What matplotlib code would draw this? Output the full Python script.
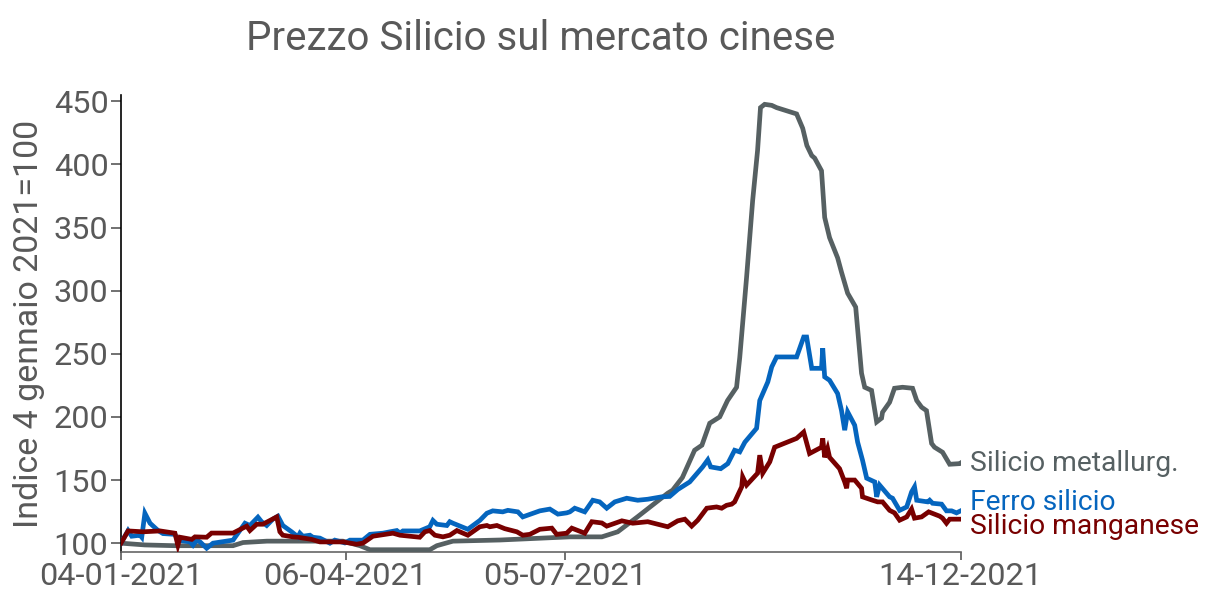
import matplotlib
matplotlib.use("Agg")
import matplotlib.pyplot as plt
import pandas as pd

# ---------------- data ----------------
start_date = "2021-01-04"   # base date (index = 100)

# days elapsed since 4 Jan 2021, and index values
metal_days = [0, 9.8, 22, 45.9, 50, 59.8, 90.9, 97.9, 102, 126.5, 129.4, 136, 155.2, 183.9,
              197, 203.5, 211.7, 224, 226, 230, 235, 238, 241.2, 245.3, 248.5, 252.2, 253.5,
              256.3, 258.8, 260.8, 262, 263.7, 266.6, 268.6, 276.8, 279.3, 281, 283, 284.2,
              287, 288.3, 290.3, 293.6, 295.2, 297.7, 301, 303.4, 304.7, 307.5, 309.6, 311.6,
              312, 314.9, 316.9, 320.2, 324.3, 326, 328, 330, 332.1, 333.3, 336.6, 339.5, 343.6, 344]
metal_vals = [100, 98.6, 98, 98, 100.5, 101.6, 101.6, 98, 94.8, 94.8, 98, 101.6, 102.5, 105,
              105, 109, 121, 139.6, 142, 152, 173.6, 177.6, 195, 200, 213, 223.5, 247,
              310.6, 371.6, 411, 445, 447.6, 446.8, 445, 440, 428.6, 415, 407, 405,
              395, 358, 342, 326, 314.6, 298, 287, 234.6, 223.5, 221, 196, 199,
              203.7, 211.6, 222.7, 223.5, 222.7, 213, 207.7, 205, 179, 176, 172, 162.5, 163, 163.5]

ferro_days = [0, 2.9, 4.4, 7.8, 8.5, 9.8, 11.9, 15.2, 17.2, 22.1, 23.3, 28.3, 29.5, 31, 32.4,
              35.1, 37.7, 45.9, 50.8, 52.8, 56.1, 57.6, 59.7, 62.2, 64.3, 66.3, 69.9, 72.5,
              73.3, 74.5, 77.4, 78.6, 81.5, 85.6, 87.6, 91.7, 93.8, 99.1, 102, 107.3, 110.2,
              113, 114.3, 115.5, 122.4, 126.5, 127.8, 129.4, 133.5, 134.7, 136, 142.1, 147,
              149.9, 152.3, 156.4, 158.5, 162.6, 164.6, 171.6, 175.7, 179, 182.6, 183.9,
              185.9, 190, 193.3, 196.1, 199, 202.3, 207.2, 211.7, 215.8, 221.5, 224.8, 228.1,
              233, 238.3, 240.4, 241.6, 245.7, 248.6, 251.4, 253.5, 255.6, 260.4, 261.7, 265,
              266.6, 268.6, 276.8, 279.7, 280.9, 283, 287, 287.5, 288.3, 290.3, 293.6, 295.2,
              296.5, 297.7, 300.6, 301.8, 303.8, 305.5, 308.8, 309.6, 310.8, 314.9, 316.1,
              319, 321.9, 323.9, 325.1, 326, 330.5, 331.3, 332.5, 336.2, 338.2, 340.3, 342.3, 344]
ferro_vals = [100, 110, 105.5, 106.3, 104.7, 123.7, 115.8, 110, 107.6, 107, 102.4, 101, 98.4, 102.4, 101,
              96, 100, 102.4, 115.8, 114, 120.6, 117, 114, 119, 121.4, 114, 109, 105,
              107.9, 105.5, 106.3, 104.7, 104, 100, 102.4, 100.2, 102.4, 102.4, 107, 107.9, 109,
              110, 108, 109.7, 109.7, 113, 118, 115, 114, 117, 115.8, 111, 118,
              123.7, 125.6, 124.8, 126, 124.8, 120.8, 125.6, 127, 123, 124, 124.8,
              127.7, 124.8, 134, 132.7, 127.7, 132.7, 135.6, 134, 134.8, 136.7, 137, 142.5,
              148.5, 160.4, 166, 160.4, 159, 163, 173.6, 172.3, 180, 191, 213, 227.7,
              239.6, 247.5, 247.5, 263.3, 263.3, 238.5, 238.5, 254.4, 231.7, 229, 218.5, 205,
              189.5, 204, 193.4, 180, 165.7, 151.5, 148.5, 136.7, 146, 136.7, 135.6,
              126, 128.7, 140.6, 144.6, 134, 132.7, 134, 131.6, 130.9, 125.6, 125.6, 124, 125.6]

mang_days = [0, 2.9, 9, 16, 22.1, 23.3, 24.2, 29, 30.3, 35.1, 37.1, 45.9, 51.5, 52.8, 55.6, 58.1,
             63.8, 65.1, 66.3, 70.4, 72.5, 78.1, 81.5, 90.9, 96.5, 99.1, 103.2, 111.4, 114.3,
             122.4, 124.5, 126.5, 128.6, 131.9, 134.7, 137.6, 142.1, 147, 149.9, 151.1, 154,
             157.2, 162.2, 164.6, 167.5, 171.6, 176.5, 178.5, 182.6, 184.7, 190, 192.9, 197,
             199, 205.2, 209.7, 215.8, 224, 228.1, 231, 233.8, 236.3, 240, 244, 246.1, 248.1,
             250.2, 251.4, 254.3, 254.7, 256.3, 260.8, 261.7, 262.9, 265.8, 267.8, 276.8,
             279.7, 282.1, 287, 287.5, 288.3, 289.5, 290.3, 294.4, 296.5, 297.3, 297.7, 300.6,
             303.4, 303.8, 307.9, 310, 312, 314.9, 316.9, 319, 321.9, 323.9, 325.1, 328,
             330.9, 335.4, 336.6, 338.2, 339.5, 344]
mang_vals = [100, 109.7, 109, 109.7, 107.9, 98.4, 104.7, 103, 105, 104.7, 108, 108, 113.5, 110, 115, 115,
             120.8, 109, 106.3, 105, 104.7, 103, 101, 101, 99.2, 100, 105.5, 107.9, 106.3,
             104.7, 109, 110, 106.3, 105, 106.3, 110, 106.3, 113, 114, 113, 114,
             111.5, 109, 106.3, 107, 111, 111.9, 107, 107.9, 111.9, 107.9, 117, 116,
             113.5, 117.7, 115.8, 117, 113, 117.7, 119, 113.5, 118.2, 127.7, 128.7, 127.7, 130,
             130.9, 132.7, 144.6, 152.5, 146, 155.4, 169.7, 155.4, 164.4, 176, 183,
             188, 171, 176, 183, 168, 175, 168, 159, 148.5, 143.5, 150, 150,
             143.5, 136.7, 134, 132.7, 132.7, 126, 124, 118.2, 120.8, 127, 119.8, 120.8,
             124.8, 121.4, 119.8, 115.8, 119, 119]

series_names = ["Silicio metallurg.", "Ferro silicio", "Silicio manganese"]
x_tick_labels = ["04-01-2021", "06-04-2021", "05-07-2021", "14-12-2021"]
y_ticks = [100, 150, 200, 250, 300, 350, 400, 450]
title = "Prezzo Silicio sul mercato cinese"
y_label = "Indice 4 gennaio 2021=100"

# ---------------- styling ----------------
plt.rcParams['font.family'] = ['Roboto', 'DejaVu Sans']
colors = ["#566062", "#0565BE", "#780000"]
text_grey = "#595959"
label_y = [163, 132.5, 113.3]   # label placement (nudged to avoid overlap)

base = pd.Timestamp(start_date)
def to_dates(days):
    return [base + pd.Timedelta(days=float(d)) for d in days]

fig = plt.figure(figsize=(12.16, 6.07), dpi=100)
ax = fig.add_axes([0.0995, 0.0906, 0.6905, 0.7529])

all_series = [(metal_days, metal_vals), (ferro_days, ferro_vals), (mang_days, mang_vals)]
draw_order = [0, 2, 1]
for i in draw_order:
    d, v = all_series[i]
    ax.plot(to_dates(d), v, color=colors[i], lw=3.4, solid_joinstyle='miter', zorder=3 + i)

for i, name in enumerate(series_names):
    d, v = all_series[i]
    ax.annotate(name, xy=(to_dates([d[-1]])[0], label_y[i]), xytext=(7, 0),
                textcoords='offset points', va='center', ha='left',
                color=colors[i], fontsize=20.3, annotation_clip=False)

ax.set_ylim(93, 455)
ax.set_xlim(base, base + pd.Timedelta(days=344))
ax.set_yticks(y_ticks)
ax.set_xticks(pd.to_datetime(x_tick_labels, format="%d-%m-%Y"))
ax.set_xticklabels(x_tick_labels)

for s in ['top', 'right']:
    ax.spines[s].set_visible(False)
ax.spines['left'].set_color('black')
ax.spines['left'].set_linewidth(1.2)
ax.spines['bottom'].set_color('#666666')
ax.spines['bottom'].set_linewidth(1.2)

ax.tick_params(axis='y', colors=text_grey, labelsize=23.3, length=7, width=1.2, pad=2)
ax.tick_params(axis='x', colors=text_grey, labelsize=23.3, length=6, width=1.2, pad=1)
for lab in ax.get_yticklabels() + ax.get_xticklabels():
    lab.set_color(text_grey)

ax.set_ylabel(y_label, color=text_grey, fontsize=24.5, labelpad=6)
fig.text(0.445, 0.937, title, ha='center', va='center', color=text_grey, fontsize=29)

fig.savefig("out.png", dpi=100)
